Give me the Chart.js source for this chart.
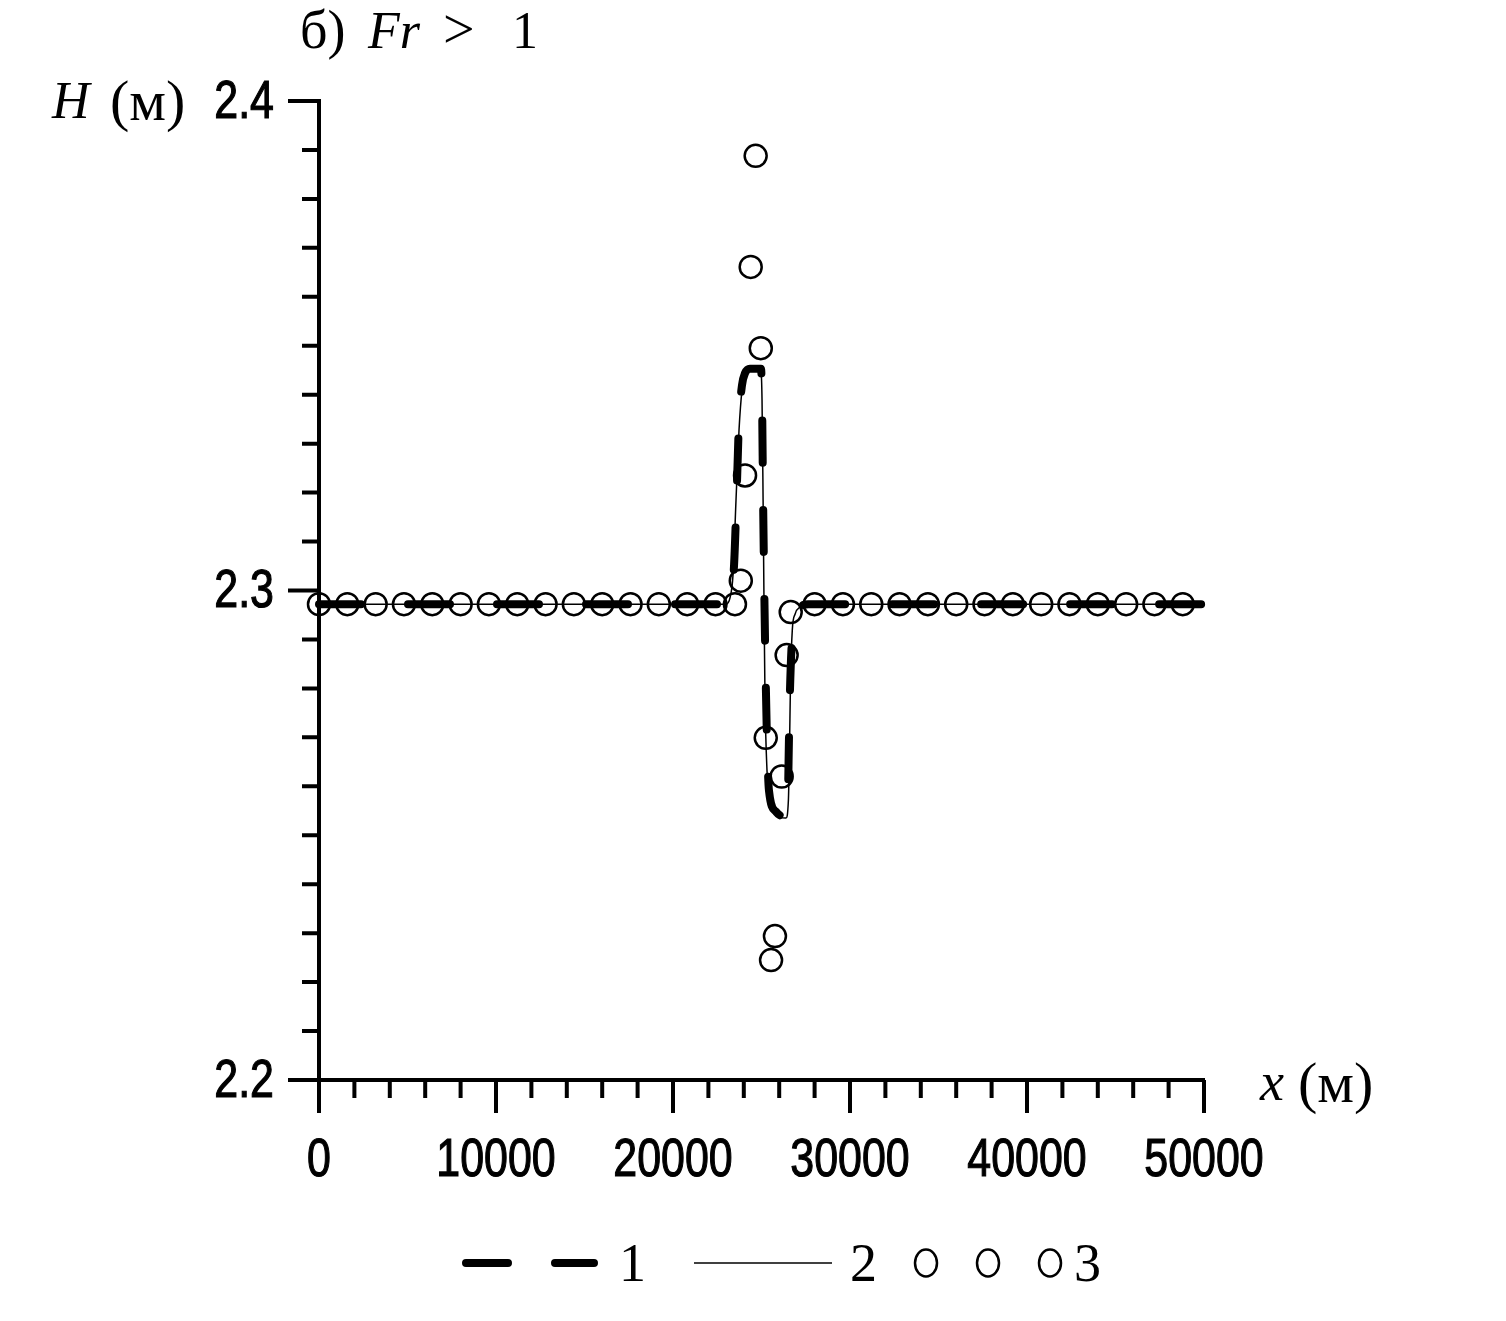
<!DOCTYPE html>
<html>
<head>
<meta charset="utf-8">
<script src="https://cdn.jsdelivr.net/npm/chart.js@4.4.0/dist/chart.umd.min.js"></script>
<style>
  html, body { margin: 0; padding: 0; background: #fff; }
  #wrap { width: 1506px; height: 1321px; }
</style>
</head>
<body>
<div id="wrap"><canvas id="chart" width="1506" height="1321"></canvas></div>
<script>
// 1 - thick dashed curve
const x1 = [0, 23160, 23280, 23450, 23620, 23730, 23900, 24070, 24350, 24970, 25030, 25090, 25200, 25310, 25420,
            25820, 26440, 26500, 26550, 26610, 26720, 26890, 27180, 27630, 50000];
const h1 = [2.2972, 2.2972, 2.2997, 2.3052, 2.3226, 2.3348, 2.3420, 2.3444, 2.3453, 2.3453, 2.3389, 2.3185, 2.2899, 2.2695, 2.2592,
            2.2548, 2.2535, 2.2592, 2.2695, 2.2797, 2.2899, 2.2948, 2.2966, 2.2972, 2.2972];

// 2 - thin solid curve
const x2 = [0, 22990, 23220, 23390, 23560, 23730, 23900, 24070, 24350, 24690, 24970, 25030, 25090, 25140, 25200, 25310,
            25420, 25650, 25990, 26380, 26520, 26580, 26640, 26740, 26900, 27180, 27630, 50000];
const h2 = [2.2972, 2.2972, 2.2985, 2.3032, 2.3185, 2.3328, 2.3410, 2.3440, 2.3453, 2.3455, 2.3448, 2.3389, 2.3185, 2.2981, 2.2776, 2.2633,
            2.2582, 2.2552, 2.2537, 2.2535, 2.2572, 2.2674, 2.2817, 2.2919, 2.2952, 2.2966, 2.2972, 2.2972];

// 3 - circles
const x3 = [0, 1600, 3200, 4800, 6400, 8000, 9600, 11200, 12800, 14400, 16000, 17600, 19200, 20800, 22400,
            23500, 23830, 24070, 24390, 24670, 24960, 25240, 25540, 25760, 26140, 26420, 26650,
            28000, 29600, 31200, 32800, 34400, 36000, 37600, 39200, 40800, 42400, 44000, 45600, 47200, 48800];
const h3 = [2.2972, 2.2972, 2.2972, 2.2972, 2.2972, 2.2972, 2.2972, 2.2972, 2.2972, 2.2972, 2.2972, 2.2972, 2.2972, 2.2972, 2.2972,
            2.2972, 2.3020, 2.3235, 2.3661, 2.3888, 2.3495, 2.2699, 2.2245, 2.2294, 2.2620, 2.2868, 2.2956,
            2.2972, 2.2972, 2.2972, 2.2972, 2.2972, 2.2972, 2.2972, 2.2972, 2.2972, 2.2972, 2.2972, 2.2972, 2.2972, 2.2972];

const xTicks = [0, 10000, 20000, 30000, 40000, 50000];
const yTicks = [2.2, 2.3, 2.4];
const xMinor = 2000;
const yMinor = 0.01;

const SANS = "'Liberation Sans', Arial, sans-serif";
const SERIF = "'Liberation Serif', 'DejaVu Serif', serif";

const toPts = (xs, ys) => xs.map((v, i) => ({x: v, y: ys[i]}));

// tick marks and narrow tick labels, placed from the scales
const axisTicks = {
    id: 'axisTicks',
    afterDraw(chart) {
        const {ctx, scales: {x, y}} = chart;
        ctx.save();
        ctx.strokeStyle = '#000';
        ctx.lineWidth = 4;
        ctx.beginPath();
        const ny = Math.round((y.max - y.min) / yMinor);
        for (let i = 0; i <= ny; i++) {
            const py = y.getPixelForValue(y.min + i * yMinor);
            const len = i % 10 === 0 ? 31 : 17;
            ctx.moveTo(x.left, py);
            ctx.lineTo(x.left - len, py);
        }
        const nx = Math.round((x.max - x.min) / xMinor);
        for (let i = 0; i <= nx; i++) {
            const px = x.getPixelForValue(x.min + i * xMinor);
            const len = i % 5 === 0 ? 33 : 18;
            ctx.moveTo(px, y.bottom);
            ctx.lineTo(px, y.bottom + len);
        }
        ctx.stroke();

        // labels: the source font is a condensed grotesque, so squeeze it
        ctx.fillStyle = '#000';
        ctx.lineWidth = 1.2;
        ctx.font = '53px ' + SANS;
        ctx.textBaseline = 'middle';
        const squeeze = 0.81;
        const label = (txt, px, py) => {
            ctx.save();
            ctx.translate(px, py);
            ctx.scale(squeeze, 1);
            ctx.fillText(txt, 0, 0);
            ctx.strokeText(txt, 0, 0);
            ctx.restore();
        };
        ctx.textAlign = 'center';
        x.ticks.forEach(t => label(String(t.value), x.getPixelForValue(t.value), y.bottom + 81));
        ctx.textAlign = 'right';
        y.ticks.forEach(t => label(t.value.toFixed(1), x.left - 45, y.getPixelForValue(t.value) + 2));
        ctx.restore();
    }
};

// title, axis names and the legend row
const textAndLegend = {
    id: 'textAndLegend',
    afterDraw(chart) {
        const ctx = chart.ctx;
        const ds = chart.data.datasets;
        ctx.save();
        ctx.fillStyle = '#000';
        ctx.textBaseline = 'alphabetic';
        const put = (t, x, y, italic, size) => {
            ctx.font = (italic ? 'italic ' : '') + size + 'px ' + SERIF;
            ctx.fillText(t, x, y);
        };
        // title
        put('б)', 300, 48, false, 54);
        put('Fr', 368, 48, true, 52);
        put('>', 443, 48, false, 56);
        put('1', 512, 48, false, 52);
        // y name
        put('H', 52, 118, true, 52);
        put('(м)', 110, 120, false, 58);
        // x name
        put('x', 1260, 1100, true, 54);
        put('(м)', 1298, 1102, false, 58);

        // legend
        const ly = 1263;
        ctx.strokeStyle = '#000';
        ctx.lineCap = 'round';
        ctx.lineWidth = ds[0].borderWidth;
        ctx.setLineDash(ds[0].borderDash);
        ctx.beginPath(); ctx.moveTo(466, ly); ctx.lineTo(594, ly); ctx.stroke();
        ctx.setLineDash([]);
        ctx.lineCap = 'butt';
        put('1', 619, 1281, false, 54);

        ctx.lineWidth = ds[1].borderWidth;
        ctx.beginPath(); ctx.moveTo(694, ly); ctx.lineTo(832, ly); ctx.stroke();
        put('2', 850, 1281, false, 54);

        ctx.lineWidth = ds[2].pointBorderWidth;
        [926, 988, 1050].forEach(cx => {
            ctx.beginPath();
            ctx.ellipse(cx, ly, ds[2].pointRadius, ds[2].pointRadius + 2.5, 0, 0, Math.PI * 2);
            ctx.stroke();
        });
        put('3', 1074, 1281, false, 54);
        ctx.restore();
    }
};

new Chart(document.getElementById('chart'), {
    type: 'scatter',
    data: {
        datasets: [{
            label: '1',
            data: toPts(x1, h1),
            showLine: true,
            borderColor: '#000',
            borderWidth: 8,
            borderDash: [42, 47],
            borderCapStyle: 'round',
            cubicInterpolationMode: 'monotone',
            pointRadius: 0,
            clip: false
        }, {
            label: '2',
            data: toPts(x2, h2),
            showLine: true,
            borderColor: '#000',
            borderWidth: 1.5,
            cubicInterpolationMode: 'monotone',
            pointRadius: 0,
            clip: false
        }, {
            label: '3',
            data: toPts(x3, h3),
            showLine: false,
            pointStyle: 'circle',
            pointRadius: 11,
            pointBorderWidth: 2.5,
            pointBorderColor: '#000',
            pointBackgroundColor: 'rgba(0,0,0,0)',
            clip: false
        }]
    },
    options: {
        responsive: false,
        devicePixelRatio: 1,
        animation: false,
        events: [],
        layout: { padding: { left: 0, top: 101, right: 302, bottom: 141 } },
        plugins: { legend: { display: false }, tooltip: { enabled: false } },
        scales: {
            x: {
                type: 'linear',
                min: 0,
                max: 50000,
                afterFit: s => { s.height = 100; },
                afterBuildTicks: s => { s.ticks = xTicks.map(v => ({value: v})); },
                grid: { display: false, drawTicks: false },
                border: { display: true, color: '#000', width: 4 },
                ticks: { display: false }
            },
            y: {
                type: 'linear',
                min: 2.2,
                max: 2.4,
                afterFit: s => { s.width = 319; },
                afterBuildTicks: s => { s.ticks = yTicks.map(v => ({value: v})); },
                grid: { display: false, drawTicks: false },
                border: { display: true, color: '#000', width: 4 },
                ticks: { display: false }
            }
        }
    },
    plugins: [axisTicks, textAndLegend]
});
</script>
</body>
</html>
